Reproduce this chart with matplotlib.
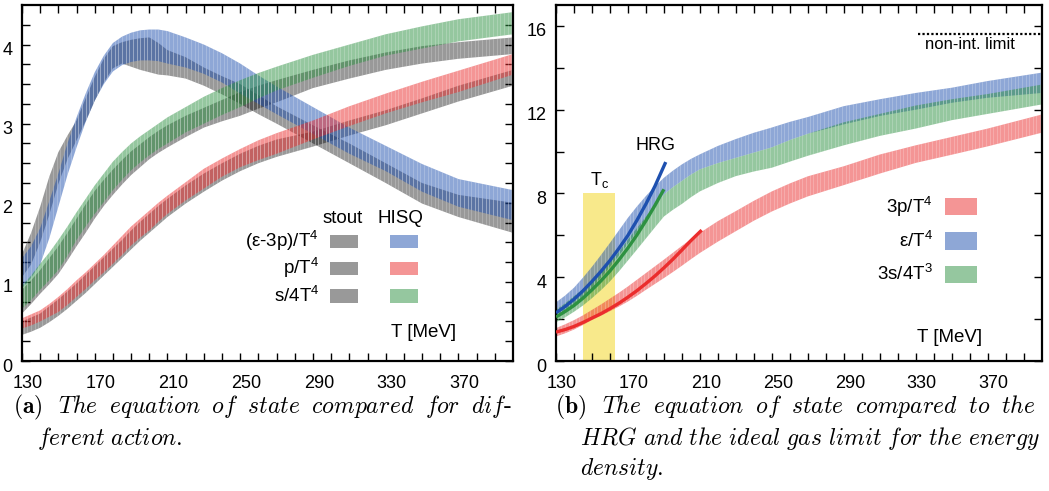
import numpy as np
import matplotlib.pyplot as plt
from matplotlib.collections import LineCollection
from matplotlib.patches import Rectangle
from matplotlib.transforms import ScaledTranslation

plt.rcParams['font.family'] = ['Liberation Sans', 'DejaVu Sans']
plt.rcParams['mathtext.fontset'] = 'custom'
plt.rcParams['mathtext.rm'] = 'Liberation Sans'
plt.rcParams['mathtext.it'] = 'Liberation Sans:italic'
plt.rcParams['mathtext.bf'] = 'Liberation Sans:bold'

# temperature grid [MeV]
T = [130, 135, 140, 145, 150, 155, 160, 165, 170, 175, 180, 185, 190, 195, 200, 205,
     210, 220, 230, 240, 250, 260, 270, 290, 310, 330, 350, 370, 400]

# (a) stout vs HISQ, lower / upper edge of each band
hisq_i_lo = [0.92, 1.05, 1.22, 1.55, 1.95, 2.35, 2.70, 3.02, 3.29, 3.50, 3.66, 3.74, 3.78,
             3.80, 3.80, 3.79, 3.76, 3.71, 3.63, 3.52, 3.38, 3.25, 3.12, 2.87, 2.62, 2.40,
             2.14, 1.95, 1.78]
hisq_i_hi = [1.30, 1.45, 1.68, 2.02, 2.37, 2.75, 3.08, 3.38, 3.65, 3.86, 4.02, 4.10, 4.15,
             4.18, 4.19, 4.19, 4.17, 4.09, 4.00, 3.89, 3.76, 3.61, 3.47, 3.21, 2.95, 2.72,
             2.49, 2.30, 2.16]
stout_i_lo = [1.06, 1.22, 1.50, 1.85, 2.24, 2.55, 2.79, 3.03, 3.29, 3.52, 3.70, 3.76, 3.72,
              3.68, 3.65, 3.62, 3.61, 3.57, 3.48, 3.37, 3.25, 3.12, 3.00, 2.75, 2.50, 2.25,
              1.99, 1.82, 1.62]
stout_i_hi = [1.35, 1.62, 1.95, 2.33, 2.64, 2.85, 3.04, 3.32, 3.59, 3.82, 3.98, 4.03, 4.06,
              4.08, 4.09, 4.02, 3.93, 3.84, 3.71, 3.60, 3.50, 3.36, 3.22, 2.98, 2.75, 2.50,
              2.25, 2.10, 2.00]
hisq_s_lo = [0.66, 0.77, 0.90, 1.02, 1.15, 1.33, 1.53, 1.70, 1.86, 2.01, 2.16, 2.29, 2.41,
             2.51, 2.60, 2.68, 2.75, 2.89, 3.00, 3.11, 3.21, 3.32, 3.42, 3.58, 3.73, 3.86,
             3.95, 4.04, 4.13]
hisq_s_hi = [0.95, 1.08, 1.23, 1.37, 1.53, 1.70, 1.88, 2.05, 2.22, 2.37, 2.52, 2.64, 2.75,
             2.84, 2.92, 3.00, 3.08, 3.21, 3.34, 3.45, 3.55, 3.64, 3.72, 3.87, 4.00, 4.13,
             4.23, 4.32, 4.41]
stout_s_lo = [0.60, 0.72, 0.85, 0.97, 1.10, 1.27, 1.45, 1.62, 1.80, 1.96, 2.10, 2.23, 2.35,
              2.45, 2.55, 2.63, 2.70, 2.83, 2.95, 3.03, 3.10, 3.19, 3.27, 3.45, 3.57, 3.68,
              3.76, 3.82, 3.88]
stout_s_hi = [0.90, 1.02, 1.15, 1.30, 1.45, 1.62, 1.80, 1.98, 2.15, 2.29, 2.42, 2.54, 2.65,
              2.74, 2.83, 2.91, 2.98, 3.10, 3.20, 3.30, 3.40, 3.48, 3.55, 3.68, 3.80, 3.90,
              3.98, 4.03, 4.09]
hisq_p_lo = [0.41, 0.45, 0.50, 0.56, 0.62, 0.71, 0.81, 0.91, 1.02, 1.12, 1.23, 1.34, 1.46,
             1.56, 1.65, 1.76, 1.86, 2.03, 2.18, 2.33, 2.45, 2.54, 2.62, 2.80, 2.97, 3.13,
             3.27, 3.40, 3.62]
hisq_p_hi = [0.54, 0.59, 0.64, 0.72, 0.81, 0.91, 1.02, 1.12, 1.23, 1.34, 1.46, 1.58, 1.70,
             1.80, 1.90, 2.00, 2.09, 2.26, 2.43, 2.56, 2.68, 2.79, 2.88, 3.04, 3.22, 3.38,
             3.53, 3.67, 3.88]
stout_p_lo = [0.33, 0.37, 0.42, 0.49, 0.57, 0.66, 0.76, 0.86, 0.97, 1.08, 1.19, 1.30, 1.41,
              1.52, 1.62, 1.72, 1.82, 1.99, 2.14, 2.28, 2.40, 2.50, 2.58, 2.71, 2.85, 2.98,
              3.13, 3.28, 3.48]
stout_p_hi = [0.50, 0.55, 0.60, 0.69, 0.78, 0.88, 0.98, 1.09, 1.20, 1.31, 1.42, 1.53, 1.65,
              1.76, 1.86, 1.96, 2.05, 2.22, 2.37, 2.50, 2.62, 2.72, 2.80, 2.90, 3.04, 3.17,
              3.32, 3.48, 3.68]

# (b) HISQ equation of state
e_lo = [2.10, 2.38, 2.70, 3.08, 3.50, 3.98, 4.50, 5.04, 5.60, 6.16, 6.70, 7.40, 7.95,
        8.30, 8.60, 8.90, 9.15, 9.45, 9.70, 9.95, 10.20, 10.55, 10.85, 11.30, 11.70, 12.00,
        12.33, 12.57, 12.80]
e_hi = [2.80, 3.12, 3.50, 3.98, 4.50, 5.06, 5.64, 6.24, 6.84, 7.38, 7.88, 8.34, 8.75,
        9.09, 9.39, 9.65, 9.87, 10.27, 10.60, 10.90, 11.15, 11.42, 11.65, 12.17, 12.50, 12.80,
        13.05, 13.37, 13.77]
s_lo = [1.85, 2.08, 2.35, 2.65, 3.00, 3.38, 3.80, 4.28, 4.80, 5.32, 5.85, 6.38, 6.90,
        7.22, 7.50, 7.82, 8.10, 8.50, 8.83, 9.05, 9.23, 9.52, 9.80, 10.30, 10.75, 11.10,
        11.50, 11.80, 12.25]
s_hi = [2.45, 2.75, 3.10, 3.43, 3.80, 4.22, 4.70, 5.22, 5.80, 6.35, 6.90, 7.42, 7.95,
        8.30, 8.60, 8.90, 9.15, 9.45, 9.70, 9.95, 10.20, 10.55, 10.85, 11.40, 11.80, 12.20,
        12.50, 12.75, 13.20]
p_lo = [1.17, 1.32, 1.50, 1.72, 1.96, 2.16, 2.38, 2.60, 2.84, 3.11, 3.40, 3.68, 3.96,
        4.25, 4.55, 4.86, 5.16, 5.70, 6.20, 6.70, 7.14, 7.52, 7.86, 8.40, 8.95, 9.46,
        9.85, 10.25, 10.90]
p_hi = [1.57, 1.75, 1.95, 2.18, 2.44, 2.70, 2.98, 3.26, 3.56, 3.88, 4.20, 4.52, 4.84,
        5.17, 5.50, 5.82, 6.12, 6.68, 7.16, 7.65, 8.10, 8.48, 8.82, 9.30, 9.86, 10.30,
        10.70, 11.10, 11.77]

# hadron resonance gas curves
T_hrg_e = [130, 135, 140, 145, 150, 155, 160, 165, 170, 175, 180, 185, 191]
hrg_e = [2.30, 2.60, 2.95, 3.35, 3.80, 4.28, 4.80, 5.38, 6.00, 6.72, 7.50, 8.35, 9.50]
T_hrg_s = [130, 135, 140, 145, 150, 155, 160, 165, 170, 175, 180, 185, 190]
hrg_s = [2.10, 2.36, 2.65, 3.00, 3.40, 3.83, 4.30, 4.83, 5.40, 6.02, 6.70, 7.43, 8.20]
T_hrg_p = [130, 135, 140, 145, 150, 155, 160, 165, 170, 175, 180, 185, 190, 195, 200,
           205, 211]
hrg_p = [1.38, 1.50, 1.65, 1.84, 2.05, 2.26, 2.50, 2.76, 3.05, 3.36, 3.70, 4.06, 4.45,
         4.86, 5.30, 5.75, 6.25]

Tc, dTc = 154, 9
sb_limit = 15.63

GRAY = 'black'
BLUE = '#1e50af'
RED = '#eb2d2d'
GREEN = '#2d9141'


def band(ax, lo, hi, color, alpha):
    poly = ax.fill_between(T, lo, hi, facecolor=color, alpha=alpha, linewidth=0, zorder=2)
    # light seams every 2 MeV, clipped to the band
    segs = [[(x, -1), (x, 30)] for x in np.arange(T[0] + 1, T[-1], 2.0)]
    lc = LineCollection(segs, colors='white', linewidths=0.6, alpha=0.25, zorder=2.1)
    ax.add_collection(lc, autolim=False)
    lc.set_clip_path(poly.get_paths()[0], ax.transData)
    return poly


def style(ax, ymax, ystep, ymajor):
    ax.set_xlim(130, 400)
    ax.set_ylim(0, ymax)
    ax.set_xticks(np.arange(130, 371, 40))
    ax.set_xticks(np.arange(140, 400, 10), minor=True)
    ax.set_yticks(ymajor)
    ax.set_yticks(np.arange(ystep, ymax, ystep), minor=True)
    ax.tick_params(which='both', direction='in', top=True, right=True,
                   length=5.5, width=1, color='black')
    ax.tick_params(axis='x', labelsize=13, pad=10)
    ax.tick_params(axis='y', labelsize=13, pad=7)
    for sp in ax.spines.values():
        sp.set_linewidth(1.6)
    fig = ax.figure
    dx = ScaledTranslation(6 / 100, 0, fig.dpi_scale_trans)
    dy = ScaledTranslation(0, -4 / 100, fig.dpi_scale_trans)
    for t in ax.xaxis.get_major_ticks():
        t.label1.set_transform(t.label1.get_transform() + dx)
    for t in ax.yaxis.get_major_ticks():
        t.label1.set_transform(t.label1.get_transform() + dy)


fig = plt.figure(figsize=(10.49, 4.91), dpi=100)
ax1 = fig.add_axes([22 / 1049, 130 / 491, 491 / 1049, 356 / 491])
ax2 = fig.add_axes([556 / 1049, 130 / 491, 485.7 / 1049, 356 / 491])

# ---- (a)
band(ax1, stout_i_lo, stout_i_hi, GRAY, 0.4)
band(ax1, stout_p_lo, stout_p_hi, GRAY, 0.4)
band(ax1, stout_s_lo, stout_s_hi, GRAY, 0.4)
band(ax1, hisq_i_lo, hisq_i_hi, BLUE, 0.5)
band(ax1, hisq_p_lo, hisq_p_hi, RED, 0.5)
band(ax1, hisq_s_lo, hisq_s_hi, GREEN, 0.5)
style(ax1, 4.5, 0.25, [0, 1, 2, 3, 4])

fs = 13.5
tr = ax1.transAxes
ax1.text(0.654, 0.399, 'stout', transform=tr, ha='center', va='center', fontsize=fs)
ax1.text(0.770, 0.399, 'HISQ', transform=tr, ha='center', va='center', fontsize=fs)
rows = [('(ε-3p)/T$^4$', BLUE, 0.337), ('p/T$^4$', RED, 0.261), ('s/4T$^4$', GREEN, 0.183)]
for lab, col, yy in rows:
    ax1.text(0.605, yy, lab, transform=tr, ha='right', va='center', fontsize=fs)
    ax1.add_patch(Rectangle((0.627, yy - 0.019), 0.057, 0.037, transform=tr,
                            facecolor=GRAY, alpha=0.4, linewidth=0))
    ax1.add_patch(Rectangle((0.749, yy - 0.019), 0.057, 0.037, transform=tr,
                            facecolor=col, alpha=0.5, linewidth=0))
ax1.text(0.817, 0.081, 'T [MeV]', transform=tr, ha='center', va='center', fontsize=fs)

# ---- (b)
ax2.add_patch(Rectangle((Tc - dTc, 0), 2 * dTc, 8, facecolor='#f8e98b', linewidth=0, zorder=1))
ax2.text(Tc, 8.15, 'T$_{\\rm c}$', ha='center', va='bottom', fontsize=13)
band(ax2, p_lo, p_hi, RED, 0.5)
band(ax2, e_lo, e_hi, BLUE, 0.5)
band(ax2, s_lo, s_hi, GREEN, 0.5)
ax2.plot(T_hrg_e, hrg_e, color=BLUE, lw=2.4, zorder=3, solid_capstyle='butt')
ax2.plot(T_hrg_s, hrg_s, color=GREEN, lw=2.4, zorder=3, solid_capstyle='butt')
ax2.plot(T_hrg_p, hrg_p, color=RED, lw=2.4, zorder=3, solid_capstyle='butt')
ax2.text(185.5, 9.9, 'HRG', ha='center', va='bottom', fontsize=13)
ax2.plot([331, 400], [sb_limit, sb_limit], color='black', lw=1.6, ls=(0, (1, 1)))
ax2.text(360, 15.1, 'non-int. limit', ha='center', va='center', fontsize=12)
style(ax2, 17, 2, [0, 4, 8, 12, 16])

tr = ax2.transAxes
rows = [('3p/T$^4$', RED, 0.433), ('ε/T$^4$', BLUE, 0.337), ('3s/4T$^3$', GREEN, 0.244)]
for lab, col, yy in rows:
    ax2.text(0.776, yy, lab, transform=tr, ha='right', va='center', fontsize=fs)
    ax2.add_patch(Rectangle((0.801, yy - 0.024), 0.066, 0.048, transform=tr,
                            facecolor=col, alpha=0.5, linewidth=0))
ax2.text(0.811, 0.065, 'T [MeV]', transform=tr, ha='center', va='center', fontsize=fs)

# ---- captions (justified lines get a little extra word spacing)
cap = dict(fontsize=17, family='cmr10', math_fontfamily='cm', va='center', ha='left')
fig.text(13 / 1049, 1 - 407 / 491,
         r'$\mathbf{(a)}$  $\mathit{The\ \;equation\ \;of\ \;state\ \;compared\ \;for\ \;dif}$-',
         **cap)
fig.text(37 / 1049, 1 - 438 / 491, r'$\mathit{ferent\ action}$.', **cap)
fig.text(555 / 1049, 1 - 407 / 491,
         r'$\mathbf{(b)}$  $\mathit{The\ \;equation\ \;of\ \;state\ \;compared\ \;to\ \;the}$',
         **cap)
fig.text(580 / 1049, 1 - 438 / 491,
         r'$\mathit{HRG\ and\ the\ ideal\ gas\ limit\ for\ the\ energy}$', **cap)
fig.text(580 / 1049, 1 - 469 / 491, r'$\mathit{density}$.', **cap)

fig.savefig('out.png', dpi=100)
